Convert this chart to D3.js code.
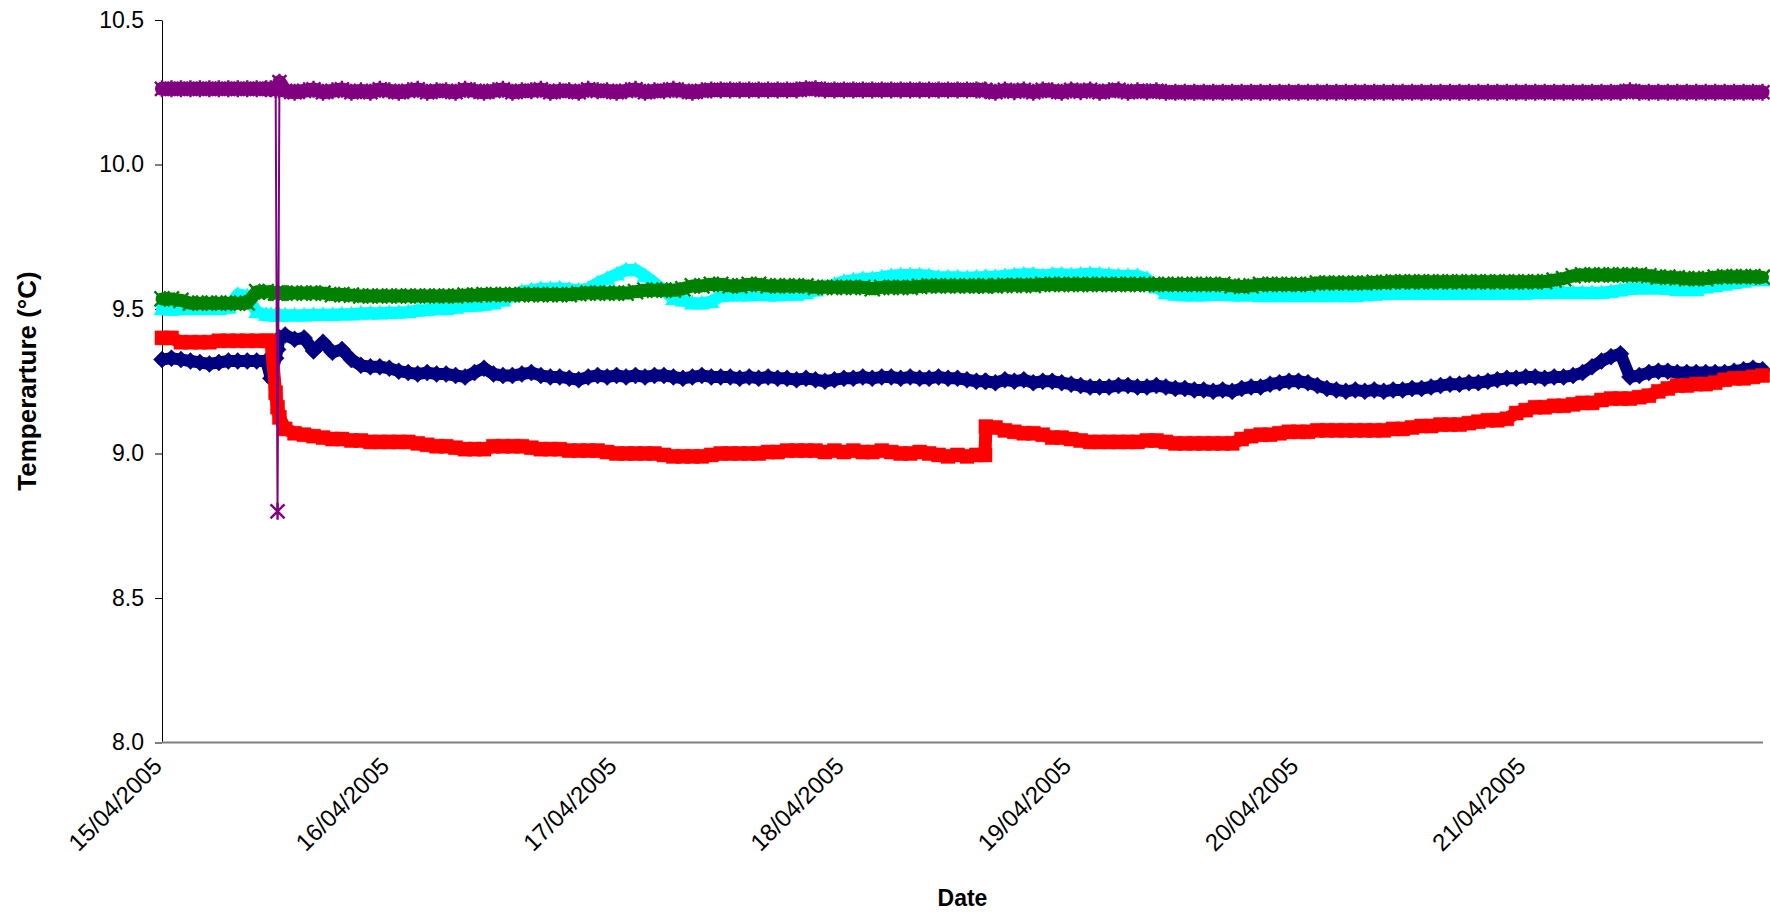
<!DOCTYPE html>
<html><head><meta charset="utf-8">
<script src="https://cdn.jsdelivr.net/npm/d3@7"></script>
<style>
body{margin:0;background:#fff}
svg{display:block}
text{font-family:"Liberation Sans",Arial,sans-serif;fill:#000}
</style>
</head><body>
<svg id="chart" width="1770" height="915"></svg>
<script>
// ---------------- DATA ----------------
const startDate = "2005-04-15T00:00:00";
// hours since 15/04/2005 00:00
const hours = [0,1,2,3,4,5,6,7,8,9,10,11,
 11.5,12,12.2,12.4,
 13,14,15,16,17,18,19,20,21,22,23,24,
 25,26,27,28,29,30,31,32,33,34,35,36,
 37,38,39,40,41,42,43,44,45,46,47,48,
 49,50,51,52,53,54,55,56,57,58,59,60,
 61,62,63,64,65,66,67,68,69,70,71,72,
 73,74,75,76,77,78,79,80,81,82,83,84,85,86,
 86.9,
 87,88,89,90,91,92,93,94,95,96,
 97,98,99,100,101,102,103,104,105,106,107,108,
 109,110,111,112,113,114,115,116,117,118,119,120,
 121,122,123,124,125,126,127,128,129,130,131,132,
 133,134,135,136,137,138,139,140,141,142,143,144,
 145,146,147,148,149,150,151,152,153,154,155,156,
 157,158,159,160,161,162,163,164,165,166,167,168,169];

const navyTemps = [9.325,9.33,9.325,9.32,9.315,9.31,9.315,9.32,9.32,9.32,9.32,9.32,
 9.26,9.33,9.36,9.40,
 9.41,9.395,9.40,9.355,9.385,9.35,9.36,9.325,9.305,9.30,9.30,9.295,
 9.285,9.28,9.275,9.28,9.275,9.275,9.27,9.265,9.28,9.295,9.275,9.27,
 9.27,9.275,9.28,9.27,9.265,9.265,9.26,9.255,9.265,9.27,9.265,9.27,
 9.265,9.27,9.265,9.27,9.27,9.265,9.26,9.265,9.27,9.265,9.265,9.265,
 9.26,9.265,9.26,9.265,9.26,9.26,9.255,9.26,9.255,9.25,9.255,9.26,
 9.26,9.265,9.26,9.265,9.265,9.26,9.265,9.26,9.26,9.265,9.26,9.26,9.255,9.25,
 9.25,
 9.25,9.245,9.255,9.25,9.255,9.245,9.25,9.25,9.245,9.24,
 9.235,9.23,9.23,9.23,9.235,9.235,9.23,9.23,9.235,9.23,9.225,9.225,
 9.22,9.22,9.215,9.22,9.215,9.225,9.23,9.23,9.24,9.245,9.25,9.25,
 9.245,9.235,9.225,9.22,9.215,9.22,9.215,9.22,9.215,9.22,9.22,9.225,
 9.225,9.23,9.235,9.24,9.24,9.245,9.245,9.25,9.255,9.26,9.26,9.265,
 9.265,9.26,9.265,9.265,9.27,9.28,9.30,9.32,9.335,9.345,9.265,9.27,
 9.28,9.285,9.285,9.28,9.28,9.28,9.28,9.28,9.28,9.285,9.29,9.295,9.29];

const redTemps = [9.40,9.40,9.385,9.385,9.385,9.385,9.39,9.39,9.39,9.39,9.39,9.39,
 9.39,9.21,9.16,9.125,
 9.085,9.07,9.065,9.06,9.055,9.05,9.05,9.045,9.045,9.04,9.04,9.04,
 9.04,9.04,9.035,9.03,9.025,9.025,9.02,9.015,9.015,9.015,9.025,9.025,
 9.025,9.025,9.02,9.015,9.015,9.015,9.01,9.01,9.01,9.01,9.005,9.0,
 9.0,9.0,9.0,9.0,8.995,8.99,8.99,8.99,8.99,8.995,9.0,9.0,
 9.0,9.0,9.0,9.005,9.005,9.01,9.01,9.01,9.01,9.005,9.01,9.005,
 9.01,9.005,9.005,9.01,9.005,9.0,9.0,9.005,9.0,8.995,8.99,8.995,8.99,8.995,
 8.995,
 9.093,9.09,9.08,9.075,9.07,9.07,9.065,9.055,9.055,9.05,
 9.045,9.04,9.04,9.04,9.04,9.04,9.04,9.045,9.045,9.04,9.035,9.035,
 9.035,9.035,9.035,9.035,9.035,9.05,9.06,9.065,9.065,9.07,9.075,9.075,
 9.075,9.08,9.08,9.08,9.08,9.08,9.08,9.08,9.08,9.085,9.085,9.09,
 9.095,9.095,9.1,9.1,9.1,9.105,9.11,9.115,9.115,9.12,9.14,9.15,
 9.16,9.16,9.165,9.165,9.17,9.175,9.175,9.185,9.19,9.19,9.19,9.195,
 9.2,9.215,9.225,9.235,9.235,9.24,9.24,9.245,9.255,9.26,9.26,9.265,9.27];

const cyanTemps = [9.50,9.498,9.50,9.50,9.50,9.50,9.50,9.505,9.55,9.545,9.49,9.48,
 9.48,9.478,9.478,9.478,
 9.478,9.478,9.478,9.48,9.48,9.48,9.482,9.482,9.485,9.485,9.485,9.487,
 9.488,9.49,9.495,9.497,9.5,9.5,9.505,9.51,9.512,9.515,9.52,9.53,
 9.545,9.56,9.565,9.57,9.57,9.572,9.568,9.565,9.57,9.59,9.605,9.62,
 9.635,9.635,9.615,9.59,9.565,9.535,9.53,9.52,9.52,9.525,9.545,9.548,
 9.548,9.548,9.55,9.548,9.548,9.55,9.55,9.555,9.565,9.575,9.585,9.595,
 9.60,9.605,9.605,9.61,9.615,9.618,9.618,9.618,9.615,9.61,9.61,9.61,9.608,9.61,
 9.61,
 9.612,9.612,9.615,9.618,9.62,9.62,9.615,9.62,9.62,9.618,
 9.62,9.622,9.62,9.618,9.615,9.615,9.615,9.605,9.575,9.555,9.55,9.548,
 9.548,9.548,9.55,9.55,9.548,9.548,9.548,9.545,9.545,9.545,9.545,9.545,
 9.545,9.545,9.545,9.545,9.545,9.545,9.548,9.55,9.552,9.554,9.554,9.554,
 9.554,9.554,9.554,9.554,9.554,9.554,9.554,9.554,9.554,9.554,9.554,9.554,
 9.556,9.556,9.556,9.556,9.556,9.556,9.556,9.556,9.56,9.565,9.57,9.572,
 9.572,9.572,9.57,9.566,9.566,9.566,9.575,9.58,9.585,9.59,9.595,9.60,9.60];

const greenTemps = [9.535,9.535,9.53,9.52,9.52,9.52,9.52,9.52,9.52,9.52,9.56,9.56,
 9.558,9.555,9.555,9.555,
 9.555,9.555,9.555,9.555,9.555,9.55,9.55,9.548,9.545,9.545,9.545,9.545,
 9.545,9.545,9.545,9.545,9.545,9.545,9.545,9.548,9.548,9.55,9.55,9.55,
 9.55,9.55,9.55,9.55,9.55,9.55,9.55,9.553,9.555,9.555,9.555,9.555,
 9.555,9.56,9.565,9.565,9.565,9.565,9.57,9.58,9.58,9.585,9.585,9.58,
 9.58,9.585,9.585,9.58,9.58,9.58,9.58,9.58,9.575,9.575,9.575,9.575,
 9.575,9.575,9.57,9.575,9.575,9.575,9.575,9.578,9.58,9.58,9.58,9.58,9.58,9.58,
 9.58,
 9.58,9.58,9.582,9.582,9.582,9.582,9.585,9.585,9.585,9.585,
 9.585,9.585,9.585,9.585,9.585,9.585,9.585,9.585,9.585,9.585,9.585,9.585,
 9.585,9.585,9.585,9.585,9.58,9.578,9.58,9.585,9.585,9.585,9.585,9.585,
 9.585,9.59,9.59,9.59,9.59,9.59,9.59,9.592,9.592,9.594,9.594,9.594,
 9.594,9.594,9.594,9.594,9.594,9.594,9.594,9.594,9.594,9.594,9.594,9.594,
 9.594,9.595,9.6,9.605,9.615,9.618,9.618,9.618,9.618,9.618,9.618,9.618,
 9.615,9.61,9.61,9.608,9.605,9.605,9.605,9.61,9.612,9.612,9.612,9.612,9.61];

const purpleTemps = [10.262,10.262,10.262,10.262,10.262,10.262,10.262,10.262,10.262,10.262,10.262,10.262,
 10.262,10.26,8.80,10.285,
 10.255,10.25,10.255,10.26,10.25,10.255,10.26,10.25,10.255,10.25,10.26,10.255,
 10.25,10.255,10.26,10.25,10.255,10.255,10.25,10.26,10.255,10.25,10.255,10.26,
 10.25,10.255,10.255,10.26,10.25,10.255,10.255,10.25,10.26,10.255,10.255,10.25,
 10.255,10.26,10.25,10.255,10.255,10.26,10.255,10.25,10.255,10.258,10.258,10.258,
 10.258,10.258,10.258,10.258,10.258,10.258,10.258,10.262,10.262,10.258,10.258,10.258,
 10.258,10.258,10.258,10.258,10.258,10.258,10.258,10.258,10.258,10.258,10.258,10.258,10.258,10.258,
 10.258,
 10.255,10.25,10.258,10.252,10.258,10.25,10.258,10.255,10.25,10.258,
 10.252,10.258,10.25,10.255,10.258,10.25,10.255,10.252,10.255,10.25,10.25,10.25,
 10.25,10.25,10.25,10.25,10.25,10.25,10.25,10.25,10.25,10.25,10.25,10.25,
 10.25,10.25,10.25,10.25,10.25,10.25,10.25,10.25,10.25,10.25,10.25,10.25,
 10.25,10.25,10.25,10.25,10.25,10.25,10.25,10.25,10.25,10.25,10.25,10.25,
 10.25,10.25,10.25,10.25,10.25,10.25,10.25,10.25,10.25,10.25,10.255,10.25,
 10.25,10.25,10.25,10.25,10.25,10.25,10.25,10.25,10.25,10.25,10.25,10.25,10.25];

const yTicks = [8.0, 8.5, 9.0, 9.5, 10.0, 10.5];
const xTickDates = ["2005-04-15","2005-04-16","2005-04-17","2005-04-18","2005-04-19","2005-04-20","2005-04-21"];
const xTitle = "Date";
const yTitle = "Temperarture (°C)";

// ---------------- CHART ----------------
const svg = d3.select("#chart");
const plot = {left:162, top:20, right:1763, bottom:742.5};
const t0 = new Date(startDate);
const toDate = h => new Date(t0.getTime() + h*3600e3);
const parseDay = d3.timeParse("%Y-%m-%d");

const x = d3.scaleTime().domain([toDate(0), toDate(169)]).range([plot.left, 1762.5]);
const y = d3.scaleLinear().domain([8, 10.5]).range([plot.bottom, plot.top]);

const series = [
  {name:"navy",   vals:navyTemps,   color:"#000080", marker:"diamond",  band:12},
  {name:"red",    vals:redTemps,    color:"#FF0000", marker:"square",   band:13},
  {name:"cyan",   vals:cyanTemps,   color:"#00FFFF", marker:"triangle", band:12},
  {name:"green",  vals:greenTemps,  color:"#008000", marker:"x",        band:13},
  {name:"purple", vals:purpleTemps, color:"#800080", marker:"star",     band:14}
];
const markerPaths = {
  diamond:"M0,-8.5L8.5,0L0,8.5L-8.5,0Z",
  square:"M-7,-7h14v14h-14Z",
  triangle:"M0,-8L8,6L-8,6Z",
  x:"M-7.5,-7.5L7.5,7.5M-7.5,7.5L7.5,-7.5",
  star:"M-7,-7L7,7M-7,7L7,-7M0,-8.5V8.5"
};

// axes
const yAxis = d3.axisLeft(y).tickValues(yTicks).tickFormat(d3.format(".1f"))
  .tickSize(7).tickSizeOuter(0).tickPadding(11);
const gy = svg.append("g").attr("transform",`translate(${plot.left},0)`).call(yAxis);
gy.select(".domain").attr("stroke","#000").attr("stroke-width",1);
gy.selectAll(".tick line").attr("stroke","#000");
gy.selectAll("text").style("font-size","23px").attr("font-family",null);

const xAxis = d3.axisBottom(x).tickValues(xTickDates.map(parseDay))
  .tickFormat(d3.timeFormat("%d/%m/%Y")).tickSize(0).tickSizeOuter(0);
const gx = svg.append("g").attr("transform",`translate(0,${plot.bottom})`).call(xAxis);
gx.select(".domain").attr("stroke","#808080").attr("stroke-width",2)
  .attr("d",`M${plot.left},0H${plot.right}`);
gx.selectAll("text").attr("x",0).attr("y",0).attr("dy",0)
  .attr("transform","translate(1,25) rotate(-45)")
  .style("text-anchor","end").style("font-size","24px").attr("font-family",null);

// series
const line = d3.line().x(d => x(toDate(d.h))).y(d => y(d.v));
const bandLine = d3.line().x(d => x(toDate(d.h))).y(d => y(d.v))
  .defined(d => !d.spike);

series.forEach(s => {
  const n = Math.min(hours.length, s.vals.length);
  const pts = d3.range(n).map(i => ({h:hours[i], v:s.vals[i]}));
  pts.forEach((p,i) => {
    const a = pts[i-1], b = pts[i+1];
    p.spike = !!(a && b && Math.abs(p.v-a.v) > 0.5 && Math.abs(p.v-b.v) > 0.5);
  });
  const g = svg.append("g").attr("class","series-"+s.name);
  g.append("path").datum(pts).attr("d", bandLine)
    .attr("fill","none").attr("stroke", s.color).attr("stroke-width", s.band)
    .attr("stroke-linejoin","round").attr("stroke-linecap","round");
  g.append("path").datum(pts).attr("d", line)
    .attr("fill","none").attr("stroke", s.color).attr("stroke-width", 2)
    .attr("stroke-linejoin","round");
  const filled = !(s.marker === "x" || s.marker === "star");
  g.selectAll("path.m").data(pts).join("path").attr("class","m")
    .attr("transform", d => `translate(${x(toDate(d.h))},${y(d.v)})`)
    .attr("d", markerPaths[s.marker])
    .attr("fill", filled ? s.color : "none")
    .attr("stroke", s.color)
    .attr("stroke-width", filled ? 0.5 : 2.4);
});

// titles
svg.append("text").attr("x", (plot.left+plot.right)/2).attr("y", 906)
  .attr("text-anchor","middle").style("font-size","23px").style("font-weight","bold")
  .text(xTitle);
svg.append("text").attr("transform","translate(36,381) rotate(-90)")
  .attr("text-anchor","middle").style("font-size","26px").style("font-weight","bold")
  .text(yTitle);
</script>
</body></html>
